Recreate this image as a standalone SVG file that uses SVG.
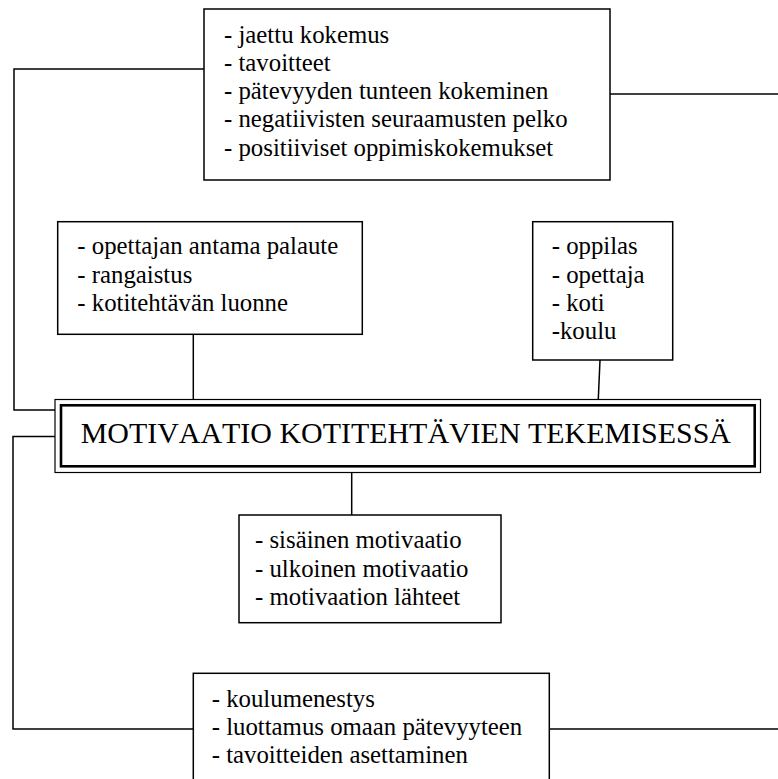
<svg xmlns="http://www.w3.org/2000/svg" width="778" height="779" viewBox="0 0 778 779">
<style>
.box{fill:#fff;stroke:#000;stroke-width:1.5}
.t{font-family:'Liberation Serif',serif;font-size:24.8px;fill:#000}
.title{font-family:'Liberation Serif',serif;font-size:29.95px;fill:#000;font-kerning:none}
.c{fill:none;stroke:#000;stroke-width:1.5}
</style>
<rect width="778" height="779" fill="#fff"/>
<g id="connectors">
<polyline class="c" points="204,69 14,69 14,410 55,410"/>
<line class="c" x1="610" y1="94" x2="778" y2="94"/>
<line class="c" x1="193.3" y1="334" x2="193.3" y2="399"/>
<line class="c" x1="600" y1="360" x2="598.3" y2="399"/>
<line class="c" x1="351.7" y1="473" x2="351.7" y2="515"/>
<polyline class="c" points="55,436.5 13,436.5 13,729 193.3,729"/>
<line class="c" x1="549.3" y1="729" x2="778" y2="729"/>
</g>
<g id="node-top">
<rect class="box" x="204" y="9" width="406" height="171"/>
<text class="t" x="224" y="42.5">- jaettu kokemus</text>
<text class="t" x="224" y="70.8">- tavoitteet</text>
<text class="t" x="224" y="99.1">- pätevyyden tunteen kokeminen</text>
<text class="t" x="224" y="127.4">- negatiivisten seuraamusten pelko</text>
<text class="t" x="224" y="155.7">- positiiviset oppimiskokemukset</text>
</g>
<g id="node-left">
<rect class="box" x="57.7" y="221.7" width="304.6" height="112.6"/>
<text class="t" x="77.3" y="254.3">- opettajan antama palaute</text>
<text class="t" x="77.3" y="282.7">- rangaistus</text>
<text class="t" x="77.3" y="311">- kotitehtävän luonne</text>
</g>
<g id="node-right">
<rect class="box" x="532.7" y="221.7" width="140" height="138.3"/>
<text class="t" x="551.7" y="254.3">- oppilas</text>
<text class="t" x="551.7" y="282.5">- opettaja</text>
<text class="t" x="551.7" y="310.8">- koti</text>
<text class="t" x="551.7" y="339.2">-koulu</text>
</g>
<g id="node-main">
<rect x="55" y="399.5" width="705.5" height="73" fill="#fff" stroke="#000" stroke-width="1.2"/>
<rect x="61" y="405.3" width="693.7" height="61" fill="none" stroke="#000" stroke-width="2.6"/>
<text class="title" x="80.7" y="442.7">MOTIVAATIO KOTITEHTÄVIEN TEKEMISESSÄ</text>
</g>
<g id="node-middle">
<rect class="box" x="239" y="515" width="262" height="107.7"/>
<text class="t" x="255" y="548.3">- sisäinen motivaatio</text>
<text class="t" x="255" y="576.7">- ulkoinen motivaatio</text>
<text class="t" x="255" y="605">- motivaation lähteet</text>
</g>
<g id="node-bottom">
<rect class="box" x="193.3" y="673.3" width="356" height="120"/>
<text class="t" x="211.7" y="706.7">- koulumenestys</text>
<text class="t" x="211.7" y="735">- luottamus omaan pätevyyteen</text>
<text class="t" x="211.7" y="763">- tavoitteiden asettaminen</text>
</g>
</svg>
